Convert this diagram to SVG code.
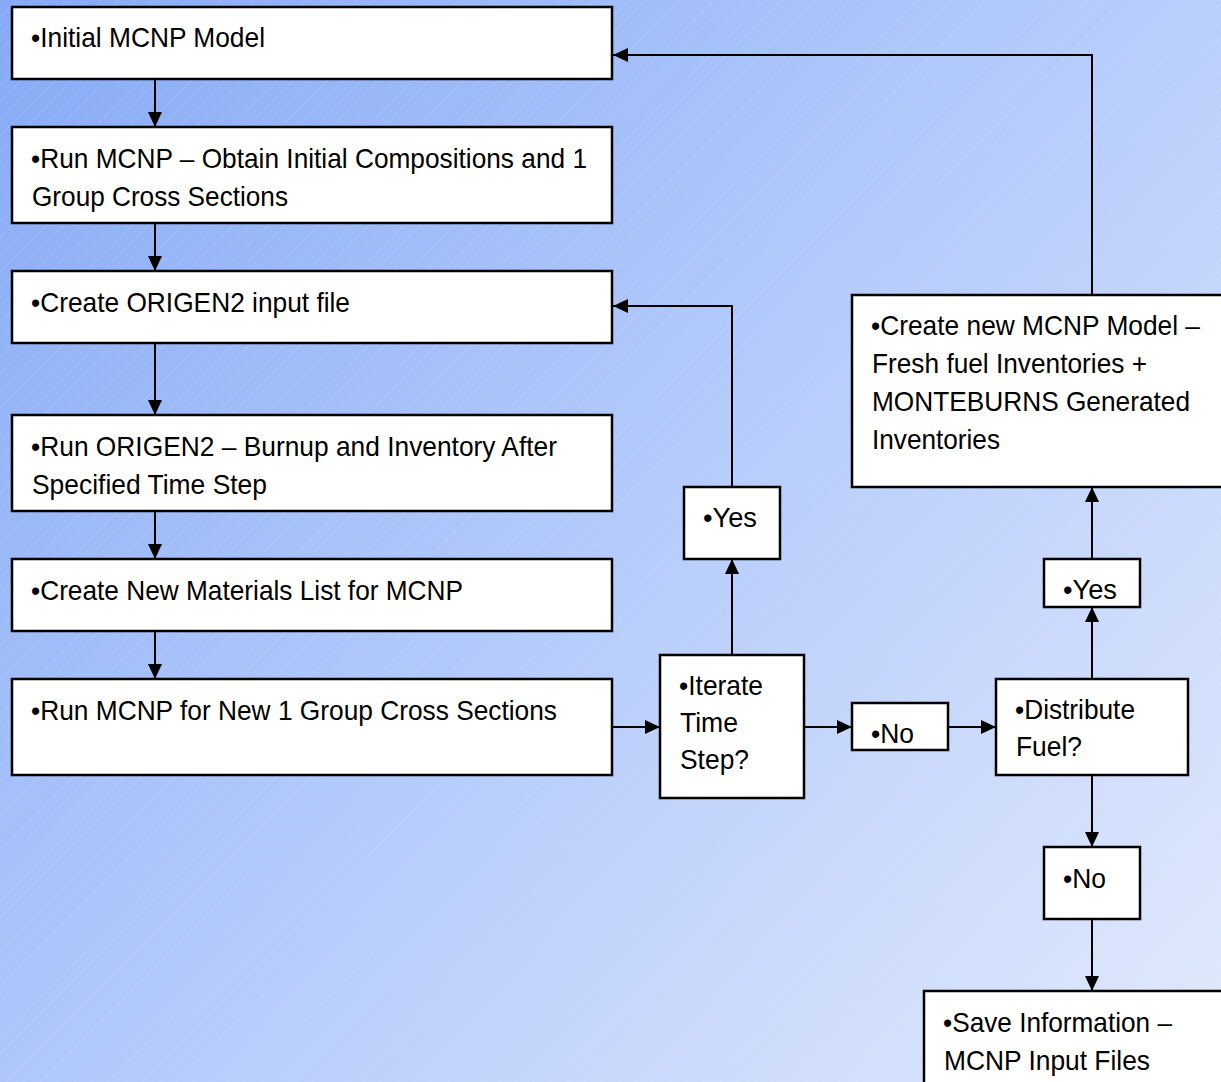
<svg xmlns="http://www.w3.org/2000/svg" width="1221" height="1082" viewBox="0 0 1221 1082">
<defs>
<linearGradient id="bg" x1="0" y1="0" x2="1221" y2="1082" gradientUnits="userSpaceOnUse">
<stop offset="0" stop-color="#86aaf6"/>
<stop offset="0.5" stop-color="#b4cbfb"/>
<stop offset="1" stop-color="#e2eafc"/>
</linearGradient>
<pattern id="hatch" width="17" height="17" patternUnits="userSpaceOnUse">
<path d="M-1 18 L18 -1" stroke="#ffffff" stroke-width="0.8" stroke-opacity="0.18"/>
</pattern>
<marker id="ah" viewBox="0 0 15 14" refX="15" refY="7" markerWidth="15" markerHeight="14" markerUnits="userSpaceOnUse" orient="auto">
<path d="M0 0 L15 7 L0 14 Z" fill="#000"/>
</marker>
<style>
.box{fill:#fff;stroke:#000;stroke-width:2.5}
.t{font-family:"Liberation Sans",Arial,sans-serif;font-size:28.5px;fill:#000}
.c{fill:none;stroke:#000;stroke-width:2}
.a{marker-end:url(#ah)}
</style>
</defs>
<rect width="1221" height="1082" fill="url(#bg)"/>
<rect width="1221" height="1082" fill="url(#hatch)"/>

<g id="connectors">
<path class="c a" d="M155 79 V127"/>
<path class="c a" d="M155 223 V271"/>
<path class="c a" d="M155 343 V415"/>
<path class="c a" d="M155 511 V559"/>
<path class="c a" d="M155 631 V679"/>
<path class="c a" d="M612 727 H660"/>
<path class="c a" d="M732 655 V559"/>
<path class="c a" d="M732 487 V306 H613"/>
<path class="c a" d="M804 727 H852"/>
<path class="c a" d="M948 727 H996"/>
<path class="c a" d="M1092 679 V607"/>
<path class="c a" d="M1092 559 V487"/>
<path class="c a" d="M1092 295 V55 H613"/>
<path class="c a" d="M1092 775 V847"/>
<path class="c a" d="M1092 919 V991"/>
</g>

<g id="n1">
<rect class="box" x="12" y="7" width="600" height="72"/>
<text class="t" x="31" y="47" textLength="234" lengthAdjust="spacingAndGlyphs">•Initial MCNP Model</text>
</g>
<g id="n2">
<rect class="box" x="12" y="127" width="600" height="96"/>
<text class="t" x="31" y="168" textLength="556" lengthAdjust="spacingAndGlyphs">•Run MCNP – Obtain Initial Compositions and 1</text>
<text class="t" x="32" y="206" textLength="256" lengthAdjust="spacingAndGlyphs">Group Cross Sections</text>
</g>
<g id="n3">
<rect class="box" x="12" y="271" width="600" height="72"/>
<text class="t" x="31" y="312" textLength="319" lengthAdjust="spacingAndGlyphs">•Create ORIGEN2 input file</text>
</g>
<g id="n4">
<rect class="box" x="12" y="415" width="600" height="96"/>
<text class="t" x="31" y="456" textLength="526" lengthAdjust="spacingAndGlyphs">•Run ORIGEN2 – Burnup and Inventory After</text>
<text class="t" x="32" y="494" textLength="235" lengthAdjust="spacingAndGlyphs">Specified Time Step</text>
</g>
<g id="n5">
<rect class="box" x="12" y="559" width="600" height="72"/>
<text class="t" x="31" y="600" textLength="432" lengthAdjust="spacingAndGlyphs">•Create New Materials List for MCNP</text>
</g>
<g id="n6">
<rect class="box" x="12" y="679" width="600" height="96"/>
<text class="t" x="31" y="720" textLength="526" lengthAdjust="spacingAndGlyphs">•Run MCNP for New 1 Group Cross Sections</text>
</g>
<g id="n7">
<rect class="box" x="660" y="655" width="144" height="143"/>
<text class="t" x="679" y="695" textLength="84" lengthAdjust="spacingAndGlyphs">•Iterate</text>
<text class="t" x="680" y="732" textLength="58" lengthAdjust="spacingAndGlyphs">Time</text>
<text class="t" x="680" y="769" textLength="69" lengthAdjust="spacingAndGlyphs">Step?</text>
</g>
<g id="n8">
<rect class="box" x="684" y="487" width="96" height="72"/>
<text class="t" x="703" y="527" textLength="54" lengthAdjust="spacingAndGlyphs">•Yes</text>
</g>
<g id="n9">
<rect class="box" x="852" y="703" width="96" height="47"/>
<text class="t" x="871" y="743" textLength="43" lengthAdjust="spacingAndGlyphs">•No</text>
</g>
<g id="n10">
<rect class="box" x="996" y="679" width="192" height="96"/>
<text class="t" x="1015" y="719" textLength="120" lengthAdjust="spacingAndGlyphs">•Distribute</text>
<text class="t" x="1016" y="756" textLength="66" lengthAdjust="spacingAndGlyphs">Fuel?</text>
</g>
<g id="n11">
<rect class="box" x="1044" y="559" width="96" height="48"/>
<text class="t" x="1063" y="599" textLength="54" lengthAdjust="spacingAndGlyphs">•Yes</text>
</g>
<g id="n12">
<rect class="box" x="852" y="295" width="380" height="192"/>
<text class="t" x="871" y="335" textLength="329" lengthAdjust="spacingAndGlyphs">•Create new MCNP Model –</text>
<text class="t" x="872" y="373" textLength="275" lengthAdjust="spacingAndGlyphs">Fresh fuel Inventories +</text>
<text class="t" x="872" y="411" textLength="318" lengthAdjust="spacingAndGlyphs">MONTEBURNS Generated</text>
<text class="t" x="872" y="449" textLength="128" lengthAdjust="spacingAndGlyphs">Inventories</text>
</g>
<g id="n13">
<rect class="box" x="1044" y="847" width="96" height="72"/>
<text class="t" x="1063" y="888" textLength="43" lengthAdjust="spacingAndGlyphs">•No</text>
</g>
<g id="n14">
<rect class="box" x="924" y="991" width="310" height="100"/>
<text class="t" x="943" y="1032" textLength="229" lengthAdjust="spacingAndGlyphs">•Save Information –</text>
<text class="t" x="944" y="1070" textLength="206" lengthAdjust="spacingAndGlyphs">MCNP Input Files</text>
</g>
</svg>
